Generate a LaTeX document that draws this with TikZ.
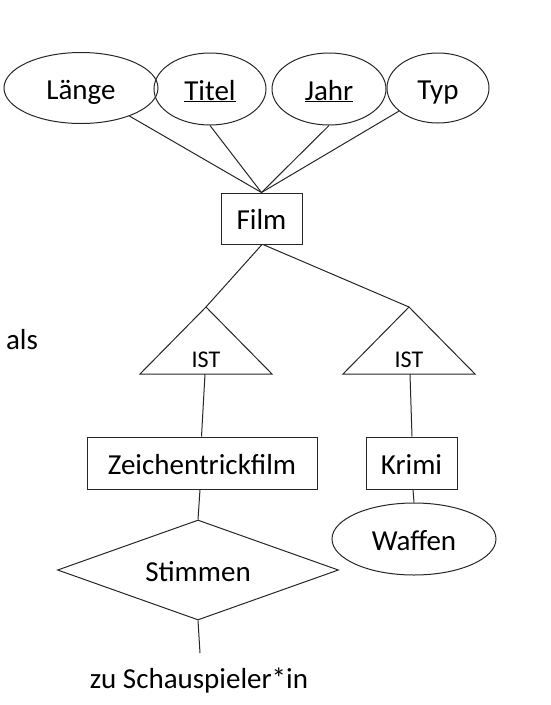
\documentclass[tikz,border=0pt]{standalone}
\usepackage{fontspec}
\setmainfont{Carlito}
\usetikzlibrary{shapes.geometric}
\tikzset{
  base/.style={line width=1pt, draw=black!85},
  lbl/.style={text height=22pt, text depth=0pt, font=\fontsize{29pt}{34pt}\selectfont},
  attr/.style={base, ellipse, inner sep=0pt, lbl},
  ent/.style={base, rectangle, inner sep=0pt, lbl},
  rel/.style={base, diamond, aspect=2.81, inner sep=0pt, lbl},
  txt/.style={inner sep=0pt, lbl},
  istlbl/.style={inner sep=0pt, text height=22pt, text depth=0pt, font=\fontsize{24pt}{28pt}\selectfont},
  conn/.style={line width=1pt, draw=black!85},
}
\begin{document}
\begin{tikzpicture}[x=1pt,y=-1pt]
\useasboundingbox (0,0) rectangle (551,705);
% attributes
\node[attr, minimum width=154pt, minimum height=71pt] (laenge) at (81,88) {Länge};
\node[attr, minimum width=112pt, minimum height=72pt] (titel) at (210,89) {\underline{Titel}};
\node[attr, minimum width=114pt, minimum height=72pt] (jahr) at (329,89) {\underline{Jahr}};
\node[attr, minimum width=102pt, minimum height=70pt] (typ) at (438,88) {Typ};
% entity Film
\node[ent, minimum width=81pt, minimum height=51pt] (film) at (261.5,218.5) {Film};
% IST triangles
\coordinate (ist1top) at (206,307);
\coordinate (ist1bot) at (205,374);
\coordinate (ist2top) at (409,307);
\coordinate (ist2bot) at (410,374);
\draw[base, line join=miter] (ist1top) -- (272,374) -- (140,374) -- cycle;
\draw[base, line join=miter] (ist2top) -- (475,374) -- (343,374) -- cycle;
\node[istlbl] (ist1) at (206,356) {IST};
\node[istlbl] (ist2) at (409,356) {IST};
% subclasses
\node[ent, minimum width=230pt, minimum height=52pt] (zeichen) at (202,463) {Zeichentrickfilm};
\node[ent, minimum width=91pt, minimum height=52pt] (krimi) at (411.5,463) {Krimi};
\node[attr, minimum width=164pt, minimum height=72pt] (waffen) at (414,539) {Waffen};
% relationship
\node[rel, minimum width=281pt, minimum height=100pt] (stimmen) at (198,570) {Stimmen};
\coordinate (stimend) at (200,653);
\node[txt] (schau) at (199,677) {zu Schauspieler*in};
\node[txt] (als) at (22,338) {als};
% connectors
\draw[conn] (laenge) -- (film.north);
\draw[conn] (titel.south) -- (film.north);
\draw[conn] (jahr.south) -- (film.north);
\draw[conn] (typ) -- (film.north);
\draw[conn] ([xshift=0.5pt]film.south) -- (ist1top);
\draw[conn] ([xshift=1.5pt]film.south) -- (ist2top);
\draw[conn] (ist1bot) -- ([xshift=-0.5pt]zeichen.north);
\draw[conn] (ist2bot) -- ([xshift=0.5pt]krimi.north);
\draw[conn] ([xshift=1.5pt]krimi.south) -- (waffen.north);
\draw[conn] ([xshift=-2pt]zeichen.south) -- (stimmen.north);
\draw[conn] (stimmen.south) -- (stimend);
\end{tikzpicture}
\end{document}
